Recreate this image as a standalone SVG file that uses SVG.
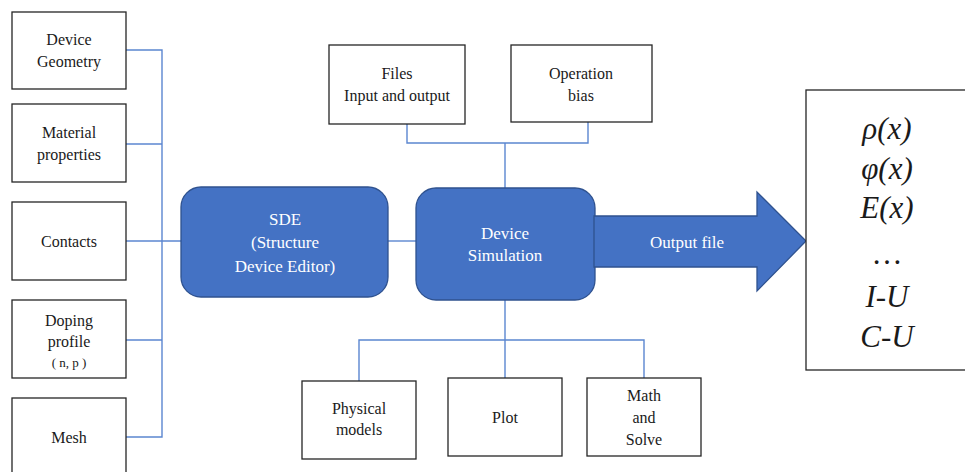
<svg xmlns="http://www.w3.org/2000/svg" width="965" height="472" viewBox="0 0 965 472">
  <style>
    .box { fill: #ffffff; stroke: #262626; stroke-width: 1.3; }
    .blue { fill: #4472C4; stroke: #2F528F; stroke-width: 1.3; }
    text { font-family: "Liberation Serif", Tinos, "Times New Roman", "DejaVu Serif", serif; }
    .lbl { font-size: 16px; fill: #1a1a1a; text-anchor: middle; }
    .wlbl { font-size: 17px; fill: #ffffff; text-anchor: middle; }
    .math { font-size: 31px; font-style: italic; fill: #1a1a1a; text-anchor: middle; }
    .wire { fill: none; stroke: #5B86D0; stroke-width: 1.4; }
  </style>

  <rect width="965" height="472" fill="#ffffff"/>

  <!-- connectors -->
  <g id="connectors">
    <polyline class="wire" points="126,50 162,50 162,437 126,437"/>
    <line class="wire" x1="126" y1="144" x2="162" y2="144"/>
    <line class="wire" x1="126" y1="241" x2="181" y2="241"/>
    <line class="wire" x1="126" y1="340" x2="162" y2="340"/>
    <line class="wire" x1="388" y1="241" x2="416" y2="241"/>
    <polyline class="wire" points="407,124 407,143 588,143 588,122"/>
    <line class="wire" x1="505" y1="143" x2="505" y2="188"/>
    <line class="wire" x1="505" y1="300" x2="505" y2="378"/>
    <polyline class="wire" points="359,381 359,340 644,340 644,378"/>
  </g>

  <!-- input boxes on the left -->
  <g id="device-geometry">
    <rect class="box" x="12" y="12" width="114" height="77"/>
    <text class="lbl" x="69" y="45">Device</text>
    <text class="lbl" x="69" y="67">Geometry</text>
  </g>
  <g id="material-properties">
    <rect class="box" x="12" y="104" width="114" height="78"/>
    <text class="lbl" x="69" y="138">Material</text>
    <text class="lbl" x="69" y="160">properties</text>
  </g>
  <g id="contacts">
    <rect class="box" x="12" y="202" width="114" height="78"/>
    <text class="lbl" x="69" y="247">Contacts</text>
  </g>
  <g id="doping-profile">
    <rect class="box" x="12" y="300" width="114" height="78"/>
    <text class="lbl" x="69" y="326">Doping</text>
    <text class="lbl" x="69" y="347">profile</text>
    <text class="lbl" x="69" y="367" style="font-size:13px">( n, p )</text>
  </g>
  <g id="mesh">
    <rect class="box" x="12" y="398" width="114" height="80"/>
    <text class="lbl" x="69" y="443">Mesh</text>
  </g>

  <!-- editor and simulator -->
  <g id="sde">
    <rect class="blue" x="181" y="187" width="207" height="110" rx="20" ry="20"/>
    <text class="wlbl" x="285" y="225">SDE</text>
    <text class="wlbl" x="285" y="248">(Structure</text>
    <text class="wlbl" x="285" y="272">Device Editor)</text>
  </g>
  <g id="device-simulation">
    <rect class="blue" x="416" y="188" width="179" height="112" rx="20" ry="20"/>
    <text class="wlbl" x="505" y="239">Device</text>
    <text class="wlbl" x="505" y="261">Simulation</text>
  </g>

  <!-- top inputs -->
  <g id="files">
    <rect class="box" x="329" y="45" width="136" height="79"/>
    <text class="lbl" x="397" y="79">Files</text>
    <text class="lbl" x="397" y="101">Input and output</text>
  </g>
  <g id="operation-bias">
    <rect class="box" x="511" y="45" width="141" height="77"/>
    <text class="lbl" x="581" y="79">Operation</text>
    <text class="lbl" x="581" y="101">bias</text>
  </g>

  <!-- bottom modules -->
  <g id="physical-models">
    <rect class="box" x="302" y="381" width="114" height="78"/>
    <text class="lbl" x="359" y="414">Physical</text>
    <text class="lbl" x="359" y="435">models</text>
  </g>
  <g id="plot">
    <rect class="box" x="448" y="378" width="114" height="78"/>
    <text class="lbl" x="505" y="423">Plot</text>
  </g>
  <g id="math-solve">
    <rect class="box" x="587" y="378" width="114" height="78"/>
    <text class="lbl" x="644" y="401">Math</text>
    <text class="lbl" x="644" y="423">and</text>
    <text class="lbl" x="644" y="445">Solve</text>
  </g>

  <!-- output arrow -->
  <g id="output-arrow">
    <polygon class="blue" points="594,216 757,216 757,192 806,241 757,291 757,267 594,267"/>
    <text class="wlbl" x="687" y="248">Output file</text>
  </g>

  <!-- results -->
  <g id="results">
    <rect class="box" x="806" y="90" width="165" height="280"/>
    <text class="math" x="887" y="139">ρ(x)</text>
    <text class="math" x="887" y="179">φ(x)</text>
    <text class="math" x="887" y="218">E(x)</text>
    <text class="math" x="887" y="264" style="font-style:normal">…</text>
    <text class="math" x="887" y="307">I-U</text>
    <text class="math" x="887" y="347">C-U</text>
  </g>
</svg>
